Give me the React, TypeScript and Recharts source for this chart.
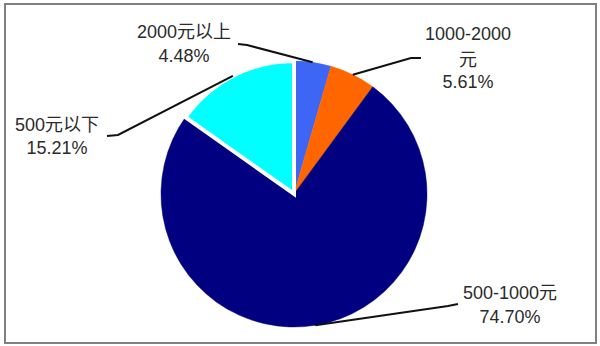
import React from 'react';
import { PieChart, Pie, Cell } from 'recharts';

const categories = ['2000元以上', '1000-2000元', '500-1000元', '500元以下'];
const shares = [4.48, 5.61, 74.7, 15.21];
const labelTexts = [
  ['2000元以上', '4.48%'],
  ['1000-2000', '元', '5.61%'],
  ['500-1000元', '74.70%'],
  ['500元以下', '15.21%'],
];
const colors = ['#3D66F5', '#FF6600', '#000080', '#00FFFF'];

const data = categories.map((name, i) => ({ name, value: shares[i] }));

// label layout (text centre x, line centre ys, leader elbow, leader end)
const labelLayout = [
  { x: 184, ys: [32, 56], elbow: [247, 45], end: [238, 44] },
  { x: 468, ys: [34, 60, 82], elbow: [411, 58], end: [421, 58] },
  { x: 510, ys: [293, 317], elbow: [448, 306], end: [458, 304] },
  { x: 57, ys: [125, 148], elbow: [118, 135], end: [107, 136] },
];

const FONT = '"Liberation Sans", Arial, "Noto Sans CJK SC", sans-serif';
const RAD = Math.PI / 180;

const renderLabel = (props: any) => {
  const { cx, cy, midAngle, outerRadius, index } = props;
  const lay = labelLayout[index];
  const px = cx + outerRadius * Math.cos(-midAngle * RAD);
  const py = cy + outerRadius * Math.sin(-midAngle * RAD);
  const pts = `${px},${py} ${lay.elbow[0]},${lay.elbow[1]} ${lay.end[0]},${lay.end[1]}`;
  return (
    <g key={`lbl-${index}`}>
      <polyline points={pts} fill="none" stroke="#111" strokeWidth={2} />
      {labelTexts[index].map((t, j) => (
        <text
          key={j}
          x={lay.x}
          y={lay.ys[j]}
          textAnchor="middle"
          dominantBaseline="central"
          fill="#2b2b2b"
          fontSize={18}
          fontFamily={FONT}
        >
          {t}
        </text>
      ))}
    </g>
  );
};

export default function App() {
  return (
    <div style={{ position: 'absolute', left: 0, top: 0, width: 600, height: 346, background: '#fff' }}>
      <div
        style={{
          position: 'absolute',
          left: 4,
          top: 3,
          width: 593,
          height: 341,
          boxSizing: 'border-box',
          border: '2px solid #808080',
        }}
      />
      <div style={{ position: 'absolute', left: 0, top: 0 }}>
        <PieChart width={600} height={346} margin={{ top: 0, right: 0, bottom: 0, left: 0 }}>
          <Pie
            data={data}
            dataKey="value"
            nameKey="name"
            cx={294}
            cy={194}
            outerRadius={133}
            startAngle={90}
            endAngle={-270}
            isAnimationActive={false}
            labelLine={false}
            label={renderLabel}
          >
            {data.map((d, i) => (
              <Cell
                key={d.name}
                fill={colors[i]}
                stroke={i === 3 ? '#ffffff' : colors[i]}
                strokeWidth={i === 3 ? 4 : 0.5}
              />
            ))}
          </Pie>
        </PieChart>
      </div>
    </div>
  );
}
